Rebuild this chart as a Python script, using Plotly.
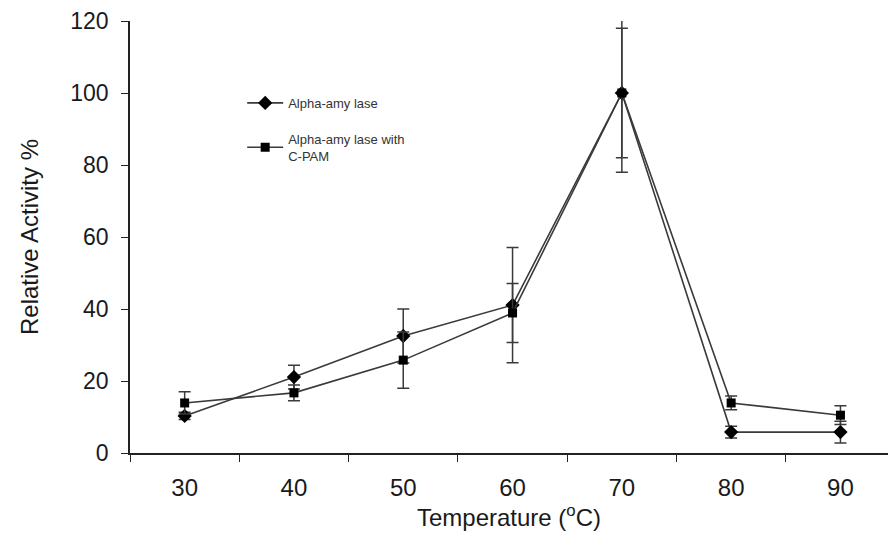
import plotly.graph_objects as go

temps = ["30", "40", "50", "60", "70", "80", "90"]
amylase = [10.3, 21.1, 32.5, 41.1, 100.0, 5.8, 5.8]
amylase_err = [1.0, 3.3, 7.5, 16.0, 22.0, 1.6, 3.0]
cpam = [13.9, 16.7, 25.8, 38.9, 100.0, 13.9, 10.5]
cpam_err = [3.1, 2.2, 7.8, 8.2, 18.0, 1.9, 2.6]
yticks = [0, 20, 40, 60, 80, 100, 120]

line_col = "#3a3a3a"
txt = "#1a1a1a"
font = "Liberation Sans, Arial, sans-serif"

fig = go.Figure()
fig.add_trace(go.Scatter(
    x=temps, y=amylase, name="Alpha-amy lase", mode="lines+markers", legendgroup="a",
    line=dict(color=line_col, width=1.6),
    marker=dict(symbol="diamond", size=11, color="black"),
    error_y=dict(type="data", array=amylase_err, visible=True, color=line_col, thickness=1.5, width=6),
))
fig.add_trace(go.Scatter(
    x=temps, y=cpam, name="Alpha-amy lase with<br>C-PAM", mode="lines+markers", legendgroup="b",
    line=dict(color=line_col, width=1.6),
    marker=dict(symbol="square", size=9, color="black"),
    error_y=dict(type="data", array=cpam_err, visible=True, color=line_col, thickness=1.5, width=6),
))

fig.update_layout(
    width=888, height=539,
    margin=dict(l=130, r=0, t=21, b=86),
    paper_bgcolor="white", plot_bgcolor="white",
    font=dict(family=font, color=txt, size=20),
    showlegend=True,
    legend=dict(
        x=0.148, y=0.845, xanchor="left", yanchor="top",
        font=dict(size=13, color="#333"), tracegroupgap=16, itemwidth=36,
        bgcolor="rgba(0,0,0,0)",
    ),
    xaxis=dict(
        type="category", range=[-0.5, 6.435],
        showline=True, linecolor="#222", linewidth=1.5,
        ticks="outside", tickson="boundaries", ticklen=7, tickcolor="#222", tickwidth=1.2,
        showgrid=False, zeroline=False,
        tickfont=dict(size=24, color=txt), ticklabelstandoff=12,
        title=dict(text="Temperature (<sup>o</sup>C)", font=dict(size=24, color=txt), standoff=4),
    ),
    yaxis=dict(
        range=[0, 120], tickvals=yticks,
        showline=True, linecolor="#222", linewidth=1.5,
        ticks="outside", ticklen=7, tickcolor="#222", tickwidth=1.2,
        showgrid=False, zeroline=False,
        tickfont=dict(size=23, color=txt), ticklabelstandoff=8,
        title=dict(text="Relative Activity %", font=dict(size=24, color=txt), standoff=25),
    ),
)

fig.write_html("out.html")
